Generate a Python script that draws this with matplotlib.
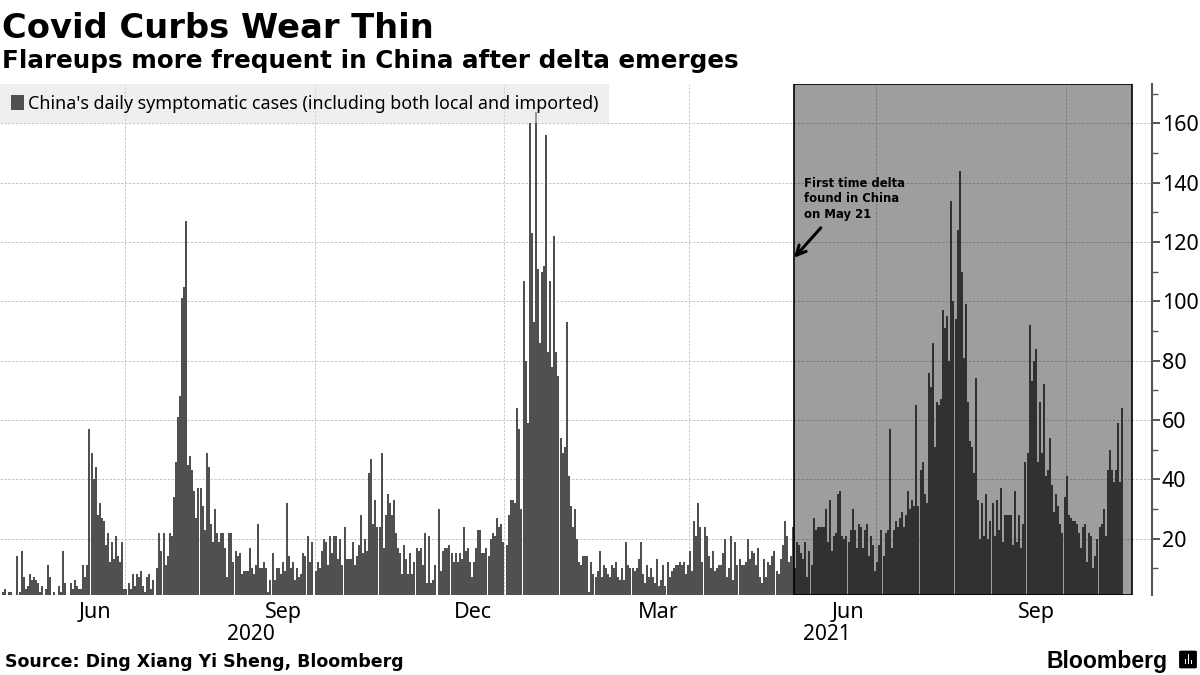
#!python3

import matplotlib
matplotlib.use('Agg')
import matplotlib.pyplot as plt
import matplotlib.dates as mdates
import matplotlib.patches as patches
from matplotlib.ticker import FixedLocator, MultipleLocator
import pandas as pd

first_day = '2020-05-02'
cases = [
    2, 3, 1, 2, 2, 1, 1, 14, 2, 16, 7, 3, 4, 8, 6, 7, 6, 5, 2, 4, 1, 3, 11, 7, 1, 2, 1, 4, 2, 16, 5, 1, 1, 5, 3, 6, 4, 3, 3, 11, 7,
    11, 57, 49, 40, 44, 28, 32, 27, 26, 18, 22, 12, 19, 13, 21, 14, 12, 19, 3, 3, 5, 3, 8, 4, 8, 7, 9, 4, 2, 7, 8, 3, 6, 1,
    10, 22, 16, 22, 11, 14, 22, 21, 34, 46, 61, 68, 101, 105, 127, 45, 48, 43, 36, 27, 37, 37, 31, 23, 49, 44, 25, 19, 30, 22, 19, 22,
    22, 17, 7, 22, 22, 12, 16, 14, 15, 8, 9, 9, 9, 17, 10, 8, 11, 25, 10, 10, 12, 10, 2, 6, 15, 6, 10, 10, 8, 12, 9, 32, 14,
    10, 12, 6, 10, 7, 8, 15, 14, 21, 12, 19, 1, 9, 12, 10, 16, 20, 19, 11, 21, 15, 21, 21, 13, 20, 11, 24, 13, 13, 13, 19, 11, 14,
    18, 28, 15, 20, 16, 42, 47, 25, 33, 24, 24, 49, 17, 28, 35, 32, 28, 33, 22, 17, 15, 8, 18, 13, 8, 15, 8, 12, 17, 16, 17, 11, 22,
    5, 21, 5, 6, 11, 1, 30, 9, 16, 17, 17, 18, 15, 12, 15, 12, 15, 13, 24, 16, 17, 12, 7, 12, 17, 23, 23, 15, 15, 17, 14, 20, 22,
    21, 27, 24, 25, 19, 1, 18, 28, 33, 33, 32, 64, 57, 30, 107, 80, 59,
    160, 123, 93, 164, 111, 86, 110, 112, 156, 83, 107, 78, 122, 83, 75, 54, 49, 51, 93, 41, 31, 24, 30, 20, 12, 11, 14, 14, 14, 2, 12, 8, 7,
    9, 16, 7, 11, 10, 8, 7, 11, 10, 12, 7, 6, 10, 6, 19, 11, 10,
    10, 9, 10, 13, 19, 8, 5, 11, 7, 10, 7, 5, 13, 4, 6, 11,
    4, 12, 7, 9, 10, 11, 11, 12, 11, 12, 8, 11, 16, 9, 26, 21, 32,
    24, 12, 24, 21, 14, 10, 16, 9, 10, 11, 11, 15, 20, 7, 10, 21,
    6, 19, 11, 13, 11, 11, 12, 20, 13, 16, 15, 11, 17, 7, 5, 13, 7,
    12, 11, 14, 16, 9, 8, 13, 18, 26, 21, 12, 14, 24, 10, 19, 18,
    15, 13, 19, 7, 16, 11, 27, 23, 24, 24, 24, 24, 30, 19, 33, 16, 21,
    22, 35, 36, 21, 20, 21, 19, 23, 30, 23, 17, 25, 24, 17, 23, 25,
    14, 21, 18, 9, 12, 18, 23, 14, 22, 23, 57, 17, 23, 26, 24, 27, 29,
    24, 28, 36, 30, 33, 31, 65, 31, 43, 46, 35, 32, 76, 71, 86, 51, 66,
    65, 67, 97, 91, 95, 80, 134, 100, 94, 124, 144, 110, 81, 99, 66, 53,
    51, 42, 74, 33, 20, 32, 21, 35, 20, 26, 32, 21, 33, 23, 37, 19, 28,
    28, 28, 28, 18, 36, 19, 28, 17, 25, 46, 49, 92, 73, 80, 84, 46,
    66, 49, 72, 41, 43, 54, 38, 29, 35, 31, 25, 22, 34, 41, 28, 27, 26,
    26, 25, 22, 17, 24, 25, 12, 22, 21, 10, 14, 20, 24, 25, 30, 21,
    43, 50, 43, 39, 43, 59, 39, 64,
]
grid_dates = ['2020-07-01', '2020-10-01', '2021-01-01', '2021-04-01', '2021-07-01', '2021-10-01']
month_dates = ['2020-06-16', '2020-09-16', '2020-12-17', '2021-03-17', '2021-06-17', '2021-09-17']
month_labels = ['Jun', 'Sep', 'Dec', 'Mar', 'Jun', 'Sep']
year_dates = ['2020-08-31', '2021-06-07']
year_labels = ['2020', '2021']
y_ticks = [20, 40, 60, 80, 100, 120, 140, 160]

days = pd.date_range(first_day, periods=len(cases))

plt.rcParams['font.family'] = ['Noto Sans', 'DejaVu Sans']
plt.rcParams['axes.unicode_minus'] = False

fig = plt.figure(figsize=(12, 6.75), dpi=100)
ax = fig.add_axes([0, 80 / 675, 1152 / 1200, 511 / 675])

ax.bar(days, cases, width=0.972, align='edge', bottom=0, color='#505050', linewidth=0, zorder=2,
       label="China's daily symptomatic cases (including both local and imported)")

ax.set_xlim(pd.Timestamp('2020-05-01'), pd.Timestamp('2021-11-12'))
ax.set_ylim(1, 173.3)

# quarter starts get the gridlines, the labels sit mid month
ax.xaxis.set_major_locator(FixedLocator(mdates.date2num(pd.to_datetime(grid_dates))))
ax.xaxis.set_major_formatter(plt.NullFormatter())
ax.xaxis.set_minor_locator(FixedLocator(mdates.date2num(pd.to_datetime(month_dates))))
ax.set_xticklabels(month_labels, minor=True, fontsize=15.5)
ax.tick_params(axis='x', which='both', length=0, pad=5)

ax.yaxis.tick_right()
ax.set_yticks(y_ticks)
ax.yaxis.set_minor_locator(MultipleLocator(10))
ax.tick_params(axis='y', which='major', length=6, width=1.4, color='#555555', labelsize=15.5, pad=1)
ax.tick_params(axis='y', which='minor', length=4, width=1, color='#555555')
ax.grid(True, which='major', color='#c6c6c6', linestyle=(0, (2.5, 1.5)), linewidth=0.7, zorder=1)
ax.set_axisbelow(True)

for side in ['top', 'left', 'bottom']:
    ax.spines[side].set_visible(False)
ax.spines['right'].set_color('#555555')
ax.spines['right'].set_linewidth(1.5)

for d, label in zip(year_dates, year_labels):
    ax.annotate(label, (pd.Timestamp(d), 0), xycoords=('data', 'axes fraction'), xytext=(0, -40),
                textcoords='offset pixels', ha='center', va='center', fontsize=15, annotation_clip=False)

# delta period
shade_start = pd.Timestamp('2021-05-22')
shade_end = pd.Timestamp('2021-11-02 12:00')
ax.axvspan(shade_start, shade_end, color='black', alpha=0.38, linewidth=0, zorder=3)
ax.axvspan(shade_start, shade_end, facecolor='none', edgecolor='black', linewidth=1.2, zorder=4)

ax.annotate('', xy=(shade_start, 114.7), xytext=(pd.Timestamp('2021-06-04'), 124.8),
            arrowprops=dict(arrowstyle='->', color='black', lw=2.2, mutation_scale=17, shrinkA=0, shrinkB=0), zorder=5)
ax.text(pd.Timestamp('2021-05-27'), 142, 'First time delta\nfound in China\non May 21', family='DejaVu Sans',
        fontsize=8.4, fontweight='bold', va='top', ha='left', linespacing=1.25, zorder=5)

leg = ax.legend(loc='upper left', bbox_to_anchor=(0, 1), borderaxespad=0, frameon=True, fancybox=False,
                facecolor='#e1e1e1', edgecolor='none', framealpha=0.5, fontsize=12.9,
                handlelength=0.75, handleheight=0.95, handletextpad=0.2, borderpad=0.6)
leg.set_zorder(6)

fig.text(2 / 1200, 1 - 38 / 675, 'Covid Curbs Wear Thin', family='DejaVu Sans', fontsize=24.3, fontweight='bold', va='baseline')
fig.text(2 / 1200, 1 - 68 / 675, 'Flareups more frequent in China after delta emerges', family='DejaVu Sans',
         fontsize=17.75, fontweight='bold', va='baseline')
fig.text(5 / 1200, 1 - 667 / 675, 'Source: Ding Xiang Yi Sheng, Bloomberg', family='DejaVu Sans',
         fontsize=12.55, fontweight='bold', va='baseline')
fig.text(1168 / 1200, 1 - 668 / 675, 'Bloomberg', family='Liberation Sans', fontsize=16.6, fontweight='bold',
         ha='right', va='baseline')

# small logo mark
fig.add_artist(patches.FancyBboxPatch((1181 / 1200, 1 - 667 / 675), 14 / 1200, 15 / 675,
                                      boxstyle='round,pad=0.001', transform=fig.transFigure,
                                      facecolor='black', edgecolor='black', linewidth=1))
for left, height in [(1184.5, 5), (1187.5, 10), (1190.5, 4)]:
    fig.add_artist(patches.Rectangle((left / 1200, 1 - 664 / 675), 1.5 / 1200, height / 675,
                                     transform=fig.transFigure, facecolor='white', edgecolor='none'))

plt.savefig('out.png', dpi=100)
